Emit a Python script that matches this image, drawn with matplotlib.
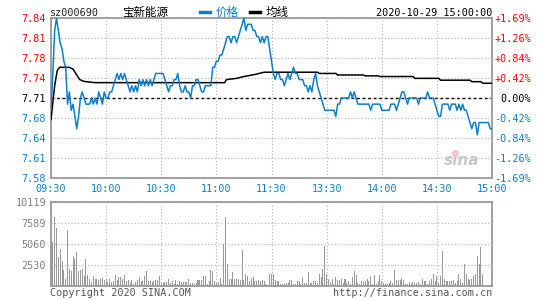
import matplotlib
matplotlib.use("Agg")
import matplotlib.pyplot as plt
import numpy as np

# ---------------- data ----------------
code = "sz000690"
name = "宝新能源"
stamp = "2020-10-29 15:00:00"
prev_close = 7.71
time_labels = ["09:30", "10:00", "10:30", "11:00", "11:30", "13:30", "14:00", "14:30", "15:00"]
price_tick_labels = ["7.58", "7.61", "7.64", "7.68", "7.71", "7.74", "7.78", "7.81", "7.84"]
pct_tick_labels = ["-1.69%", "-1.26%", "-0.84%", "-0.42%", "0.00%", "+0.42%", "+0.84%", "+1.26%", "+1.69%"]
pct_steps = [-1.69, -1.2675, -0.845, -0.4225, 0.0, 0.4225, 0.845, 1.2675, 1.69]
vol_ticks = [2530, 5060, 7589, 10119]

price = [
    7.69, 7.75, 7.82, 7.84, 7.82, 7.80, 7.79, 7.77, 7.76, 7.70,
    7.72, 7.69, 7.70, 7.68, 7.66, 7.68, 7.71, 7.72, 7.71, 7.70,
    7.70, 7.70, 7.71, 7.70, 7.71, 7.70, 7.72, 7.71, 7.70, 7.72,
    7.71, 7.71, 7.72, 7.72, 7.73, 7.74, 7.75, 7.74, 7.75, 7.74,
    7.75, 7.74, 7.73, 7.72, 7.73, 7.72, 7.73, 7.72, 7.74, 7.73,
    7.74, 7.73, 7.74, 7.73, 7.74, 7.73, 7.74, 7.75, 7.75, 7.75,
    7.75, 7.75, 7.74, 7.73, 7.72, 7.73, 7.73, 7.74, 7.74, 7.75,
    7.73, 7.72, 7.72, 7.73, 7.72, 7.72, 7.71, 7.73, 7.73, 7.74,
    7.74, 7.73, 7.72, 7.72, 7.73, 7.73, 7.73, 7.73, 7.76, 7.76,
    7.77, 7.77, 7.78, 7.78, 7.79, 7.80, 7.81, 7.81, 7.80, 7.81,
    7.81, 7.80, 7.81, 7.82, 7.83, 7.84, 7.82, 7.83, 7.83, 7.83,
    7.82, 7.82, 7.81, 7.81, 7.80, 7.81, 7.80, 7.81, 7.81, 7.79,
    7.77, 7.75, 7.74, 7.75, 7.75, 7.74, 7.74, 7.73, 7.74, 7.75,
    7.74, 7.75, 7.76, 7.75, 7.75, 7.74, 7.74, 7.74, 7.73, 7.73,
    7.72, 7.73, 7.72, 7.74, 7.75, 7.73, 7.72, 7.71, 7.70, 7.69,
    7.69, 7.69, 7.69, 7.69, 7.69, 7.68, 7.70, 7.70, 7.71, 7.71,
    7.71, 7.71, 7.71, 7.72, 7.71, 7.72, 7.71, 7.70, 7.70, 7.70,
    7.70, 7.70, 7.70, 7.70, 7.69, 7.70, 7.70, 7.70, 7.70, 7.70,
    7.69, 7.69, 7.69, 7.69, 7.69, 7.70, 7.70, 7.70, 7.69, 7.70,
    7.71, 7.72, 7.72, 7.71, 7.70, 7.71, 7.71, 7.71, 7.71, 7.71,
    7.70, 7.71, 7.71, 7.71, 7.71, 7.72, 7.71, 7.71, 7.71, 7.70,
    7.69, 7.68, 7.68, 7.70, 7.70, 7.70, 7.70, 7.69, 7.70, 7.70,
    7.70, 7.69, 7.70, 7.69, 7.70, 7.69, 7.69, 7.68, 7.67, 7.66,
    7.67, 7.67, 7.65, 7.67, 7.67, 7.67, 7.67, 7.67, 7.67, 7.66,
    7.66,
]

avg_t = [0, 2, 3.4, 4.7, 10, 12, 15.6, 18, 24, 94.5, 95.5, 101, 105, 110.5, 116, 121,
         145, 146, 155, 156, 170, 171, 178, 179, 197, 198, 211, 212, 228, 229, 234, 235, 240]
avg_v = [7.675, 7.73, 7.755, 7.76, 7.76, 7.757, 7.74, 7.737, 7.735, 7.735, 7.740, 7.742, 7.745, 7.748, 7.752, 7.752,
         7.752, 7.750, 7.750, 7.7475, 7.7475, 7.746, 7.746, 7.745, 7.745, 7.742, 7.742, 7.739, 7.739, 7.7366, 7.7366, 7.734, 7.734]

volume = [
    5600, 5300, 8300, 7000, 3500, 4400, 3000, 1900, 900, 6800,
    2100, 1800, 3600, 3300, 4100, 1800, 1900, 2000, 1200, 3300,
    1300, 800, 500, 1200, 900, 800, 750, 900, 1000, 700,
    800, 500, 900, 500, 550, 1300, 700, 1050, 1050, 850,
    1300, 600, 750, 350, 750, 300, 500, 750, 1050, 550,
    550, 1200, 1800, 550, 550, 500, 550, 700, 700, 1200,
    350, 400, 500, 500, 800, 350, 550, 200, 700, 300,
    550, 500, 500, 500, 500, 800, 400, 400, 300, 350,
    700, 700, 700, 1200, 1200, 300, 550, 1900, 1800, 550,
    400, 500, 1000, 200, 5100, 8300, 2600, 800, 800, 1650,
    900, 900, 800, 700, 4300, 700, 1400, 1200, 550, 1000,
    1050, 550, 550, 700, 550, 700, 550, 300, 150, 1500,
    1500,
    1400, 700, 550, 550, 300, 300, 300, 400, 400, 700,
    700, 300, 300, 550, 550, 300, 1050, 400, 400, 1650,
    400, 400, 550, 550, 400, 1400, 1050, 2000, 4800, 1500,
    900, 500, 800, 300, 1050, 700, 700, 800, 400, 800,
    400, 550, 300, 1050, 1800, 1300, 400, 300, 550, 500,
    550, 800, 550, 1200, 300, 1300, 300, 550, 1300, 550,
    400, 300, 300, 400, 550, 400, 1900, 700, 700, 700,
    1000, 700, 300, 200, 500, 200, 500, 500, 400, 500,
    300, 900, 550, 550, 300, 550, 800, 1400, 550, 1200,
    400, 1200, 4200, 800, 550, 550, 550, 550, 700, 400,
    550, 1500, 800, 400, 2700, 1400, 900, 700, 900, 1200,
    1500, 3600, 2600, 4700, 1500, 0, 0, 0, 0, 0,
]

# ---------------- style ----------------
W, H = 545, 300
BLUE = "#0a80cc"
RED = "#ff0000"
GRAY = "#999999"
MONO = "DejaVu Sans Mono"
CJK = ["Noto Sans CJK SC", "DejaVu Sans"]
FS = 7.3

fig = plt.figure(figsize=(W / 100, H / 100), dpi=100)
fig.patch.set_facecolor("white")

def box(l, t, r, b):
    return [l / W, 1 - b / H, (r - l) / W, (b - t) / H]

ax = fig.add_axes(box(51, 18, 492, 178))
axv = fig.add_axes(box(51, 202, 492, 286))

minutes = np.arange(len(price))
lo = prev_close * (1 - 0.0169)
hi = prev_close * (1 + 0.0169)
tick_prices = [prev_close * (1 + p / 100) for p in pct_steps]

for a in (ax, axv):
    a.set_xlim(0, 240)
    for s in a.spines.values():
        s.set_color(GRAY)
        s.set_linewidth(1.3)
    a.set_xticks(np.arange(0, 241, 30))
    a.tick_params(length=0)
    a.grid(True, color="#b0b0b0", linestyle=(0, (1, 2)), linewidth=0.8)
    a.set_axisbelow(True)

ax.set_ylim(lo, hi)
ax.set_yticks(tick_prices)
ax.set_yticklabels(price_tick_labels, fontfamily=MONO, fontsize=FS)
for lab, p in zip(ax.get_yticklabels(), pct_steps):
    lab.set_color(RED if p > 0 else ("black" if p == 0 else BLUE))
ax.tick_params(axis="y", pad=3.5)
ax.set_xticklabels(time_labels, fontfamily=MONO, fontsize=FS, color=BLUE)
ax.tick_params(axis="x", pad=4.5)

ax2 = ax.twinx()
ax2.set_ylim(lo, hi)
ax2.set_yticks(tick_prices)
ax2.set_yticklabels(pct_tick_labels, fontfamily=MONO, fontsize=FS)
for lab, p in zip(ax2.get_yticklabels(), pct_steps):
    lab.set_color(RED if p > 0 else ("black" if p == 0 else BLUE))
    lab.set_horizontalalignment("right")
ax2.tick_params(length=0, pad=28)
for s in ax2.spines.values():
    s.set_visible(False)

ax.axhline(prev_close, color="black", linestyle=(0, (2, 2)), linewidth=1.0, zorder=2)
ax.plot(minutes, price, color=BLUE, linewidth=1.1, zorder=4)
ax.plot(avg_t, avg_v, color="black", linewidth=1.1, zorder=3)

# sina watermark
ax.text(0.93, 0.06, "sina", transform=ax.transAxes, fontsize=11, fontstyle="italic",
        fontweight="bold", color="#c8c8c8", ha="center", va="bottom", zorder=1)
ax.scatter([0.915], [0.155], transform=ax.transAxes, s=28, color="#f6c4c4", zorder=1, linewidths=0)

# volume
axv.bar(minutes, volume, width=0.55, color=GRAY, align="center", zorder=3)
axv.set_ylim(0, 10119)
axv.set_yticks(vol_ticks)
axv.set_yticklabels([str(v) for v in vol_ticks], fontfamily=MONO, fontsize=FS, color="#808080")
axv.tick_params(axis="y", pad=3.5)
axv.set_xticklabels([])

# header
def px(x, y):
    return x / W, 1 - y / H

fig.text(*px(50, 12.5), code, fontfamily=MONO, fontsize=FS, color="#222222", va="center", ha="left")
fig.text(*px(122, 12.5), name, family=CJK, fontsize=8.3, color="black", va="center", ha="left")
fig.add_artist(plt.Line2D([200 / W, 210 / W], [1 - 12 / H] * 2, color=BLUE, linewidth=2.5))
fig.text(*px(216, 12.5), "价格", family=CJK, fontsize=8.3, color=BLUE, va="center", ha="left")
fig.add_artist(plt.Line2D([250 / W, 260 / W], [1 - 12 / H] * 2, color="black", linewidth=2.5))
fig.text(*px(266, 12.5), "均线", family=CJK, fontsize=8.3, color="black", va="center", ha="left")
fig.text(*px(492, 12.5), stamp, fontfamily=MONO, fontsize=FS, color="black", va="center", ha="right")

# footer
fig.text(*px(50, 293), "Copyright 2020 SINA.COM", fontfamily=MONO, fontsize=FS, color="#555555", va="center", ha="left")
fig.text(*px(492, 293), "http://finance.sina.com.cn", fontfamily=MONO, fontsize=FS, color="#555555", va="center", ha="right")

fig.savefig("out.png", dpi=100)
